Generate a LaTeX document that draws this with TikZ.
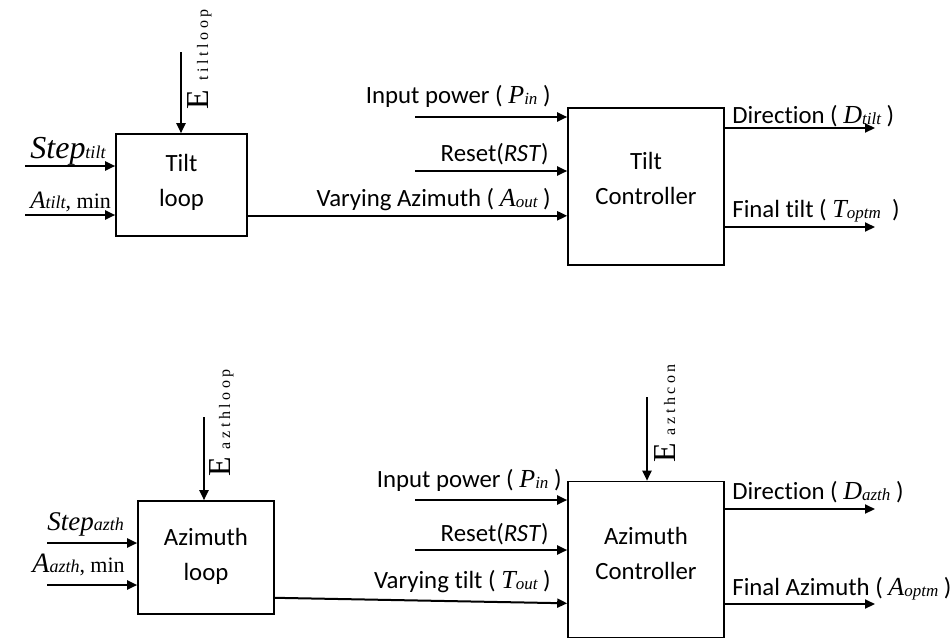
\documentclass[tikz,border=0pt]{standalone}
\usepackage{fontspec}
\setmainfont{Carlito}[Ligatures=NoCommon]
\newfontfamily\tms{Liberation Serif}
\newfontfamily\tmsspread[LetterSpace=22]{Liberation Serif}
\usetikzlibrary{arrows.meta}

% italic symbol with small subscript
\newcommand{\symb}[2]{{\tms\itshape\fontsize{13}{13}\selectfont #1\raisebox{-0.1ex}{\fontsize{8.5}{9}\selectfont #2}}}
% extra depth under box text
\newcommand{\dn}[1]{\rule[-#1]{0pt}{0pt}}

\begin{document}
\begin{tikzpicture}[x=0.5pt, y=-0.5pt, every node/.style={font=\fontsize{12.4}{17.5}\selectfont},
  blk/.style={draw, line width=0.8pt, align=center, inner sep=0pt},
  sig/.style={line width=1pt, -{Triangle[length=5pt,width=4.5pt]}},
  lbl/.style={inner sep=0pt}]
\useasboundingbox (0,0) rectangle (952,643);

% tilt part
\node[blk, minimum width=65.5pt, minimum height=51pt] (tloop) at (181.5,185) {Tilt\\loop\dn{5pt}};
\node[blk, minimum width=78pt, minimum height=78.5pt] (tcon) at (646,186.5) {Tilt\\Controller\dn{8pt}};

\coordinate (tE) at (181,52);
\coordinate (tstep) at (25,166);
\coordinate (tamin) at (25,215);
\coordinate (tpin) at (415,117);
\coordinate (trst) at (415,171);
\coordinate (tdir) at (875,128);
\coordinate (tfin) at (875,227);

\draw[sig] (tE) -- (tE |- tloop.north);
\draw[sig] (tstep) -- (tstep -| tloop.west);
\draw[sig] (tamin) -- (tamin -| tloop.west);
\draw[sig] ([shift={(0,-21)}]tloop.south east) -- ([shift={(0,-50)}]tcon.south west);
\draw[sig] (tpin) -- (tpin -| tcon.west);
\draw[sig] (trst) -- (trst -| tcon.west);
\draw[sig] (tdir -| tcon.east) -- (tdir);
\draw[sig] (tfin -| tcon.east) -- (tfin);

\node[lbl, rotate=90, anchor=base west] (tElbl) at (208,110) {{\tms\fontsize{16}{16}\selectfont E}\hspace{5pt}{\tmsspread\fontsize{8}{8}\selectfont tiltloop}};
\node[lbl, anchor=base west] (tsteplbl) at (30,158) {\tms\itshape\fontsize{16}{16}\selectfont Step{\fontsize{9}{9}\selectfont tilt}};
\node[lbl, anchor=base west] (taminlbl) at (30,208) {\tms\fontsize{12.5}{13}\selectfont\itshape A{\fontsize{9}{9}\selectfont tilt}\upshape{\fontsize{11}{11}\selectfont, min}};
\node[lbl, anchor=base east] (tpinlbl) at (551,103) {Input power ( \symb{P}{in} )};
\node[lbl, anchor=base east] (trstlbl) at (549,161) {Reset(\textit{RST})};
\node[lbl, anchor=base east] (tvarlbl) at (551,206) {Varying Azimuth ( \symb{A}{out} )};
\node[lbl, anchor=base west] (tdirlbl) at (732,123) {Direction ( \symb{D}{tilt} )};
\node[lbl, anchor=base west] (tfinlbl) at (732,217) {Final tilt ( \symb{T}{optm} \ )};

% azimuth part
\node[blk, minimum width=68pt, minimum height=56.5pt] (azloop) at (206,557.5) {Azimuth\\loop\dn{3pt}};
\node[blk, minimum width=78pt, minimum height=78pt] (azcon) at (646,559.5) {Azimuth\\Controller\dn{6pt}};

\coordinate (azE) at (204,417);
\coordinate (azcE) at (647,397);
\coordinate (azstep) at (47,543);
\coordinate (azamin) at (47,585);
\coordinate (azpin) at (415,500);
\coordinate (azrst) at (415,550);
\coordinate (azdir) at (875,509);
\coordinate (azfin) at (875,604);

\draw[sig] (azE) -- (azE |- azloop.north);
\draw[sig] (azcE) -- (azcE |- azcon.north);
\draw[sig] (azstep) -- (azstep -| azloop.west);
\draw[sig] (azamin) -- (azamin -| azloop.west);
\draw[sig] ([shift={(0,-17)}]azloop.south east) -- ([shift={(0,-35)}]azcon.south west);
\draw[sig] (azpin) -- (azpin -| azcon.west);
\draw[sig] (azrst) -- (azrst -| azcon.west);
\draw[sig] (azdir -| azcon.east) -- (azdir);
\draw[sig] (azfin -| azcon.east) -- (azfin);

\node[lbl, rotate=90, anchor=base west] (azElbl) at (230,477) {{\tms\fontsize{16}{16}\selectfont E}\hspace{4pt}{\tmsspread\fontsize{8}{8}\selectfont azthloop}};
\node[lbl, rotate=90, anchor=base west] (azcElbl) at (675,463) {{\tms\fontsize{16}{16}\selectfont E}\hspace{4pt}{\tmsspread\fontsize{8}{8}\selectfont azthcon}};
\node[lbl, anchor=base west] (azsteplbl) at (47,530) {\tms\itshape\fontsize{13.5}{14}\selectfont Step{\fontsize{9}{9}\selectfont azth}};
\node[lbl, anchor=base west] (azaminlbl) at (32,572) {\tms\fontsize{14}{14}\selectfont\itshape A{\fontsize{9}{9}\selectfont azth}\upshape{\fontsize{11}{11}\selectfont, min}};
\node[lbl, anchor=base east] (azpinlbl) at (562,487) {Input power ( \symb{P}{in} )};
\node[lbl, anchor=base east] (azrstlbl) at (549,541) {Reset(\textit{RST})};
\node[lbl, anchor=base east] (azvarlbl) at (551,588) {Varying tilt ( \symb{T}{out} )};
\node[lbl, anchor=base west] (azdirlbl) at (732,499) {Direction ( \symb{D}{azth} )};
\node[lbl, anchor=base west] (azfinlbl) at (732,595) {Final Azimuth ( \symb{A}{optm} )};
\end{tikzpicture}
\end{document}
